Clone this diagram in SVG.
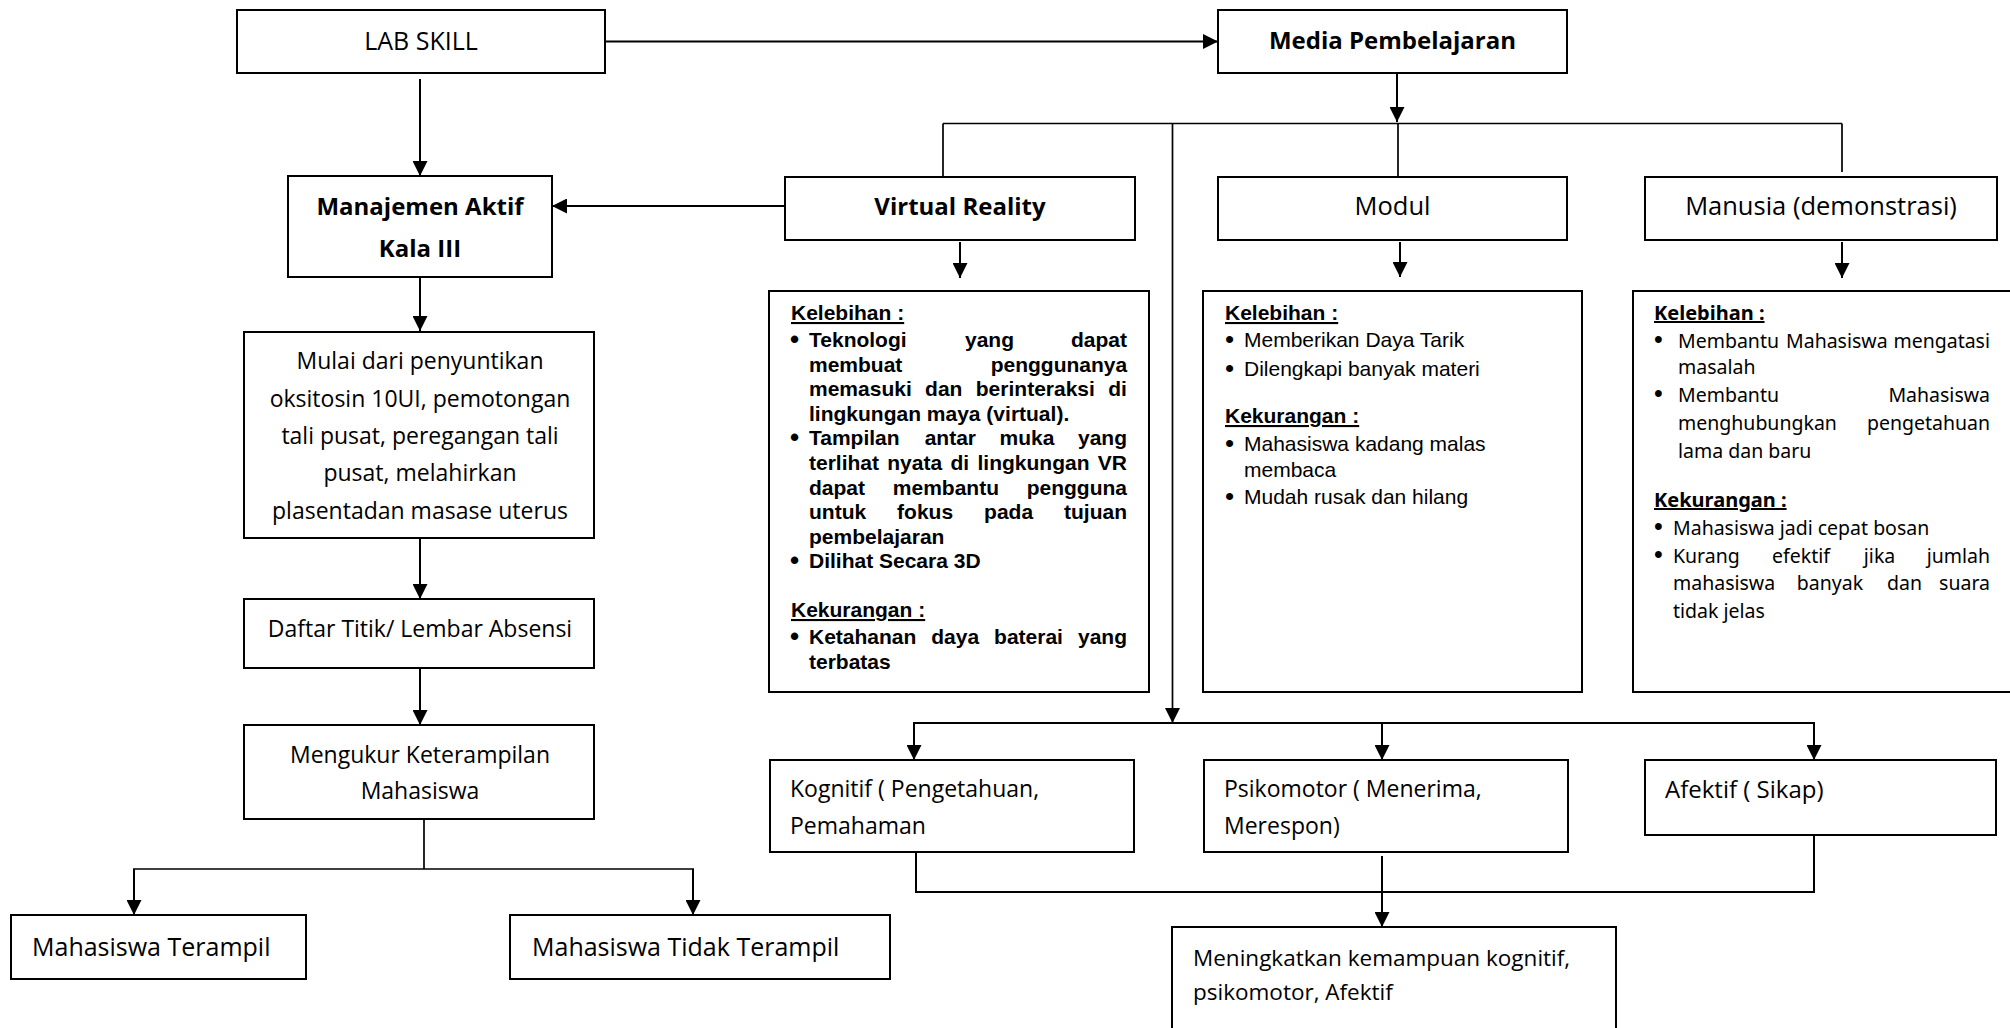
<svg xmlns="http://www.w3.org/2000/svg" width="2010" height="1028" viewBox="0 0 2010 1028">
<style>
.box{fill:#fff;stroke:#000;stroke-width:2}
.ln{fill:none;stroke:#000;stroke-width:2}
.lt{fill:none;stroke:#000;stroke-width:1.7}
.c{font-family:"Open Sans","Liberation Sans",sans-serif;fill:#000}
.cb{font-family:"Open Sans","Liberation Sans",sans-serif;font-weight:bold;fill:#000}
.a{font-family:"Liberation Sans",Arial,sans-serif;font-size:21px;fill:#000}
.ab{font-family:"Liberation Sans",Arial,sans-serif;font-size:21px;font-weight:bold;fill:#000}
.t{font-family:"Noto Sans","DejaVu Sans",sans-serif;font-size:19.5px;fill:#000}
.tb{font-family:"Noto Sans","DejaVu Sans",sans-serif;font-size:20px;font-weight:bold;fill:#000}
.u{text-decoration:underline}
.mid{text-anchor:middle}
.bl{font-size:26px}
.bt{font-family:"Liberation Sans",Arial,sans-serif;font-size:25px}
</style>
<defs>
<marker id="ah" markerUnits="userSpaceOnUse" markerWidth="15" markerHeight="15" refX="15" refY="7.5" orient="auto">
<path d="M0,0 L15,7.5 L0,15 Z" fill="#000"/>
</marker>
</defs>
<rect width="2010" height="1028" fill="#fff"/>

<g id="connectors">
<line class="ln" x1="605" y1="41.5" x2="1218" y2="41.5" stroke-width="2.5" marker-end="url(#ah)"/>
<line class="ln" x1="420" y1="79" x2="420" y2="176" marker-end="url(#ah)"/>
<line class="ln" x1="785" y1="206" x2="552" y2="206" stroke-width="2.5" marker-end="url(#ah)"/>
<line class="ln" x1="420" y1="277" x2="420" y2="331" marker-end="url(#ah)"/>
<line class="ln" x1="420" y1="538" x2="420" y2="599" marker-end="url(#ah)"/>
<line class="ln" x1="420" y1="668" x2="420" y2="725" marker-end="url(#ah)"/>
<path class="lt" d="M424,819 V869 M133,869 H694"/>
<line class="ln" x1="134" y1="869" x2="134" y2="915" marker-end="url(#ah)"/>
<line class="ln" x1="693" y1="869" x2="693" y2="915" marker-end="url(#ah)"/>
<line class="ln" x1="1397" y1="74" x2="1397" y2="122" marker-end="url(#ah)"/>
<path class="lt" d="M943,123.5 H1842 M943,123.5 V177 M1398,123.5 V177 M1842,123.5 V172"/>
<line class="lt" x1="1172.5" y1="123.5" x2="1172.5" y2="723" marker-end="url(#ah)"/>
<line class="ln" x1="960" y1="242" x2="960" y2="278" marker-end="url(#ah)"/>
<line class="ln" x1="1400" y1="242" x2="1400" y2="277" marker-end="url(#ah)"/>
<line class="ln" x1="1842" y1="242" x2="1842" y2="278" marker-end="url(#ah)"/>
<path class="ln" d="M913,723 H1815"/>
<line class="ln" x1="914" y1="723" x2="914" y2="760" marker-end="url(#ah)"/>
<line class="ln" x1="1382" y1="723" x2="1382" y2="760" marker-end="url(#ah)"/>
<line class="ln" x1="1814" y1="723" x2="1814" y2="760" marker-end="url(#ah)"/>
<path class="ln" d="M916,852 V892 H1814 V835"/>
<line class="ln" x1="1382" y1="856" x2="1382" y2="927" marker-end="url(#ah)"/>
</g>

<g id="lab-skill">
<rect class="box" x="237" y="10" width="368" height="63"/>
<text class="c mid" x="421" y="50" font-size="25">LAB SKILL</text>
</g>

<g id="media-pembelajaran">
<rect class="box" x="1218" y="10" width="349" height="63"/>
<text class="cb mid" x="1392.5" y="49" font-size="24">Media Pembelajaran</text>
</g>

<g id="manajemen-aktif">
<rect class="box" x="288" y="176" width="264" height="101"/>
<text class="cb mid" x="420" y="215" font-size="24">Manajemen Aktif</text>
<text class="cb mid" x="420" y="257" font-size="24">Kala III</text>
</g>

<g id="virtual-reality">
<rect class="box" x="785" y="177" width="350" height="63"/>
<text class="cb mid" x="960" y="215" font-size="24">Virtual Reality</text>
</g>

<g id="modul">
<rect class="box" x="1218" y="177" width="349" height="63"/>
<text class="c mid" x="1392.5" y="215" font-size="25.5">Modul</text>
</g>

<g id="manusia">
<rect class="box" x="1645" y="177" width="352" height="63"/>
<text class="c mid" x="1821" y="215" font-size="25.5">Manusia (demonstrasi)</text>
</g>

<g id="vr-detail">
<rect class="box" x="769" y="291" width="380" height="401"/>
<text class="ab u" x="791" y="320">Kelebihan :</text>
<text class="ab"><tspan class="bl" x="790" y="348">•</tspan><tspan x="809" y="347">Teknologi </tspan><tspan x="965">yang </tspan><tspan x="1071">dapat</tspan></text>
<text class="ab" y="371.6"><tspan x="809">membuat </tspan><tspan x="990.7">penggunanya</tspan></text>
<text class="ab" y="396.2"><tspan x="809">memasuki </tspan><tspan x="925.1">dan </tspan><tspan x="975.8">berinteraksi </tspan><tspan x="1108.2">di</tspan></text>
<text class="ab" x="809" y="420.8">lingkungan maya (virtual).</text>
<text class="ab"><tspan class="bl" x="790" y="446.4">•</tspan><tspan x="809" y="445.4">Tampilan </tspan><tspan x="924.7">antar </tspan><tspan x="999.5">muka </tspan><tspan x="1078">yang</tspan></text>
<text class="ab" y="470"><tspan x="809">terlihat </tspan><tspan x="887.3">nyata </tspan><tspan x="950.5">di </tspan><tspan x="977.5">lingkungan </tspan><tspan x="1097.8">VR</tspan></text>
<text class="ab" y="494.6"><tspan x="809">dapat </tspan><tspan x="892.8">membantu </tspan><tspan x="1026.7">pengguna</tspan></text>
<text class="ab" y="519.2"><tspan x="809">untuk </tspan><tspan x="897.1">fokus </tspan><tspan x="984.1">pada </tspan><tspan x="1064">tujuan</tspan></text>
<text class="ab" x="809" y="543.8">pembelajaran</text>
<text class="ab"><tspan class="bl" x="790" y="569.4">•</tspan><tspan x="809" y="568.4">Dilihat Secara 3D</tspan></text>
<text class="ab u" x="791" y="617">Kekurangan :</text>
<text class="ab"><tspan class="bl" x="790" y="645">•</tspan><tspan x="809" y="644">Ketahanan </tspan><tspan x="931.3">daya </tspan><tspan x="994.1">baterai </tspan><tspan x="1078">yang</tspan></text>
<text class="ab" x="809" y="668.6">terbatas</text>
</g>

<g id="modul-detail">
<rect class="box" x="1203" y="291" width="379" height="401"/>
<text class="ab u" x="1225" y="320">Kelebihan :</text>
<text class="a"><tspan class="bl" x="1225" y="347.5">•</tspan><tspan x="1244" y="346.5">Memberikan Daya Tarik</tspan></text>
<text class="a"><tspan class="bl" x="1225" y="376.5">•</tspan><tspan x="1244" y="375.5">Dilengkapi banyak materi</tspan></text>
<text class="ab u" x="1225" y="423">Kekurangan :</text>
<text class="a"><tspan class="bl" x="1225" y="451.5">•</tspan><tspan x="1244" y="450.5">Mahasiswa kadang malas</tspan></text>
<text class="a" x="1244" y="477">membaca</text>
<text class="a"><tspan class="bl" x="1225" y="505">•</tspan><tspan x="1244" y="504">Mudah rusak dan hilang</tspan></text>
</g>

<g id="manusia-detail">
<rect class="box" x="1633" y="291" width="390" height="401"/>
<text class="tb u" x="1654" y="320">Kelebihan :</text>
<text class="t" y="348"><tspan class="bt" x="1654">•</tspan><tspan x="1678">Membantu </tspan><tspan x="1786">Mahasiswa </tspan><tspan x="1990" text-anchor="end">mengatasi</tspan></text>
<text class="t" x="1678" y="374">masalah</text>
<text class="t" y="402"><tspan class="bt" x="1654">•</tspan><tspan x="1678">Membantu </tspan><tspan x="1990" text-anchor="end">Mahasiswa</tspan></text>
<text class="t" y="430"><tspan x="1678">menghubungkan </tspan><tspan x="1990" text-anchor="end">pengetahuan</tspan></text>
<text class="t" x="1678" y="458">lama dan baru</text>
<text class="tb u" x="1654" y="507">Kekurangan :</text>
<text class="t" y="535"><tspan class="bt" x="1654">•</tspan><tspan x="1673">Mahasiswa jadi cepat bosan</tspan></text>
<text class="t" y="563"><tspan class="bt" x="1654">•</tspan><tspan x="1673">Kurang </tspan><tspan x="1801" text-anchor="middle">efektif</tspan><tspan x="1877" text-anchor="middle"> jika</tspan><tspan x="1990" text-anchor="end"> jumlah</tspan></text>
<text class="t" y="590"><tspan x="1673">mahasiswa </tspan><tspan x="1830" text-anchor="middle">banyak</tspan><tspan x="1902" text-anchor="middle"> dan</tspan><tspan x="1990" text-anchor="end"> suara</tspan></text>
<text class="t" x="1673" y="618">tidak jelas</text>
</g>

<g id="mulai">
<rect class="box" x="244" y="332" width="350" height="206"/>
<text class="c mid" font-size="23"><tspan x="420" y="369">Mulai dari penyuntikan</tspan><tspan x="420" y="406.5">oksitosin 10UI, pemotongan</tspan><tspan x="420" y="444">tali pusat, peregangan tali</tspan><tspan x="420" y="481">pusat, melahirkan</tspan><tspan x="420" y="518.5">plasentadan masase uterus</tspan></text>
</g>

<g id="daftar">
<rect class="box" x="244" y="599" width="350" height="69"/>
<text class="c mid" x="420" y="637" font-size="23">Daftar Titik/ Lembar Absensi</text>
</g>

<g id="mengukur">
<rect class="box" x="244" y="725" width="350" height="94"/>
<text class="c mid" font-size="23"><tspan x="420" y="763">Mengukur Keterampilan</tspan><tspan x="420" y="799">Mahasiswa</tspan></text>
</g>

<g id="terampil">
<rect class="box" x="11" y="915" width="295" height="64"/>
<text class="c" x="32" y="956" font-size="25">Mahasiswa Terampil</text>
</g>

<g id="tidak-terampil">
<rect class="box" x="510" y="915" width="380" height="64"/>
<text class="c" x="532" y="956" font-size="25">Mahasiswa Tidak Terampil</text>
</g>

<g id="kognitif">
<rect class="box" x="770" y="760" width="364" height="92"/>
<text class="c" font-size="23"><tspan x="790" y="797">Kognitif ( Pengetahuan,</tspan><tspan x="790" y="834">Pemahaman</tspan></text>
</g>

<g id="psikomotor">
<rect class="box" x="1204" y="760" width="364" height="92"/>
<text class="c" font-size="23"><tspan x="1224" y="797">Psikomotor ( Menerima,</tspan><tspan x="1224" y="834">Merespon)</tspan></text>
</g>

<g id="afektif">
<rect class="box" x="1645" y="760" width="351" height="75"/>
<text class="c" x="1665" y="798" font-size="24">Afektif ( Sikap)</text>
</g>

<g id="meningkatkan">
<rect class="box" x="1172" y="927" width="444" height="120"/>
<text class="c" font-size="22.5"><tspan x="1193" y="966">Meningkatkan kemampuan kognitif,</tspan><tspan x="1193" y="1000">psikomotor, Afektif</tspan></text>
</g>
</svg>
